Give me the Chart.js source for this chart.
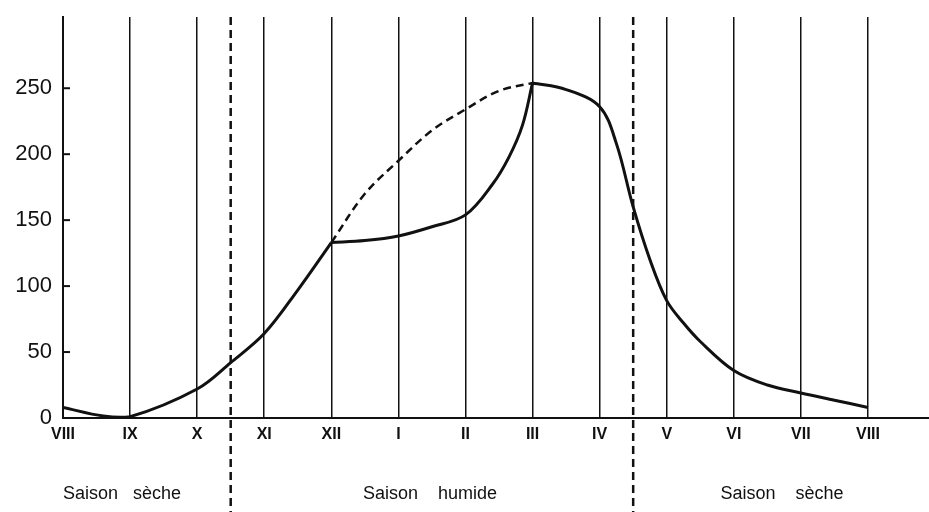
<!DOCTYPE html>
<html>
<head>
<meta charset="utf-8">
<script src="https://cdn.jsdelivr.net/npm/chart.js@4"></script>
<style>
  html, body { margin: 0; padding: 0; background: #ffffff; }
  #c { display: block; }
</style>
</head>
<body>
<canvas id="c" width="929" height="512"></canvas>
<script>
// Month tick labels (index 0..12)
const months = ['VIII','IX','X','XI','XII','I','II','III','IV','V','VI','VII','VIII'];
const yTickValues = [0, 50, 100, 150, 200, 250];

// Solid curve, dry season rise (VIII -> XII)
const riseX = [0, 0.6, 1, 2, 2.5, 3, 3.5, 4];
const riseY = [8, 1.5, 1, 22, 42, 64, 97, 133];

// Solid curve, lower branch (XII -> III)
const lowerX = [4, 4.5, 5, 5.5, 6, 6.4, 6.65, 6.85, 7];
const lowerY = [133, 134.5, 138, 145, 154, 177, 198, 222, 254];

// Dashed curve, upper branch (XII -> III)
const upperX = [4, 4.5, 5, 5.5, 6, 6.5, 7];
const upperY = [133, 170, 195, 218, 234, 248, 254];

// Solid curve, decline (III -> VIII)
const fallX = [7, 7.5, 8, 8.25, 8.5, 8.75, 9, 9.25, 9.5, 10, 10.5, 11, 11.5, 12];
const fallY = [254, 249, 236, 208, 160, 120, 89, 72, 58, 36, 25, 19, 13.5, 8];

// Season boundaries and labels
const seasonBounds = [2.5, 8.5];
const seasonNames = ['Saison   sèche', 'Saison    humide', 'Saison    sèche'];

const pts = (xs, ys) => xs.map((x, i) => ({ x: x, y: ys[i] }));
const INK = '#111111';

const overlay = {
  id: 'overlay',
  afterDraw(chart) {
    const ctx = chart.ctx;
    const xs = chart.scales.x, ys = chart.scales.y;
    const area = chart.chartArea;
    ctx.save();
    // inward y tick marks
    ctx.strokeStyle = INK;
    ctx.lineWidth = 2;
    yTickValues.forEach(v => {
      const y = ys.getPixelForValue(v);
      ctx.beginPath();
      ctx.moveTo(area.left, y);
      ctx.lineTo(area.left + 7, y);
      ctx.stroke();
    });
    // dashed season boundaries
    ctx.setLineDash([8, 5]);
    ctx.lineWidth = 2.5;
    seasonBounds.forEach(b => {
      const x = xs.getPixelForValue(b);
      ctx.beginPath();
      ctx.moveTo(x, area.top);
      ctx.lineTo(x, chart.height);
      ctx.stroke();
    });
    ctx.setLineDash([]);
    // season labels
    const anchors = [0.88, 5.47, 10.72];
    ctx.fillStyle = INK;
    ctx.font = '18px "Liberation Sans", Arial, sans-serif';
    ctx.textAlign = 'center';
    ctx.textBaseline = 'middle';
    seasonNames.forEach((s, i) => {
      ctx.fillText(s, xs.getPixelForValue(anchors[i]), 494);
    });
    ctx.restore();
  }
};

const lineStyle = { borderColor: INK, borderWidth: 3, tension: 0.35 };

new Chart(document.getElementById('c'), {
  type: 'line',
  data: {
    datasets: [
      Object.assign({ data: pts(riseX, riseY) }, lineStyle),
      Object.assign({ data: pts(lowerX, lowerY) }, lineStyle),
      Object.assign({ data: pts(upperX, upperY) }, lineStyle, { borderWidth: 2.5, borderDash: [8, 5] }),
      Object.assign({ data: pts(fallX, fallY) }, lineStyle)
    ]
  },
  options: {
    responsive: false,
    animation: false,
    layout: { padding: { top: 17, left: 0, right: 0, bottom: 0 } },
    elements: { point: { radius: 0 } },
    plugins: { legend: { display: false }, tooltip: { enabled: false } },
    scales: {
      x: {
        type: 'linear',
        min: 0,
        max: 12.91,
        afterBuildTicks: (s) => { s.ticks = months.map((m, i) => ({ value: i })); },
        afterFit: (s) => { s.height = 94; s.paddingLeft = 0; s.paddingRight = 0; },
        ticks: {
          autoSkip: false,
          maxRotation: 0,
          padding: 7,
          color: INK,
          font: { family: '"Liberation Sans", Arial, sans-serif', size: 16, weight: 'bold' },
          callback: (v) => months[v]
        },
        grid: { color: INK, lineWidth: 1.5, drawTicks: false },
        border: { display: true, color: INK, width: 2 }
      },
      y: {
        min: 0,
        max: 304,
        afterBuildTicks: (s) => { s.ticks = yTickValues.map(v => ({ value: v })); },
        afterFit: (s) => { s.width = 63; s.paddingTop = 0; s.paddingBottom = 0; },
        ticks: {
          padding: 11,
          color: INK,
          font: { family: '"Liberation Sans", Arial, sans-serif', size: 22 }
        },
        grid: { display: false, drawTicks: false },
        border: { display: true, color: INK, width: 2 }
      }
    }
  },
  plugins: [overlay]
});
</script>
</body>
</html>
